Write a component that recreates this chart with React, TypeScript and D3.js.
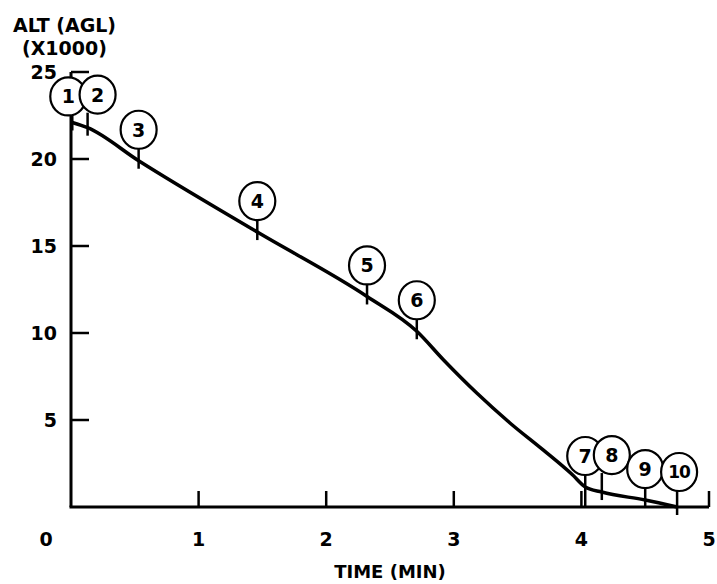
import React from 'react';
import * as d3 from 'd3';

// flight profile (time in min, altitude in thousands of ft AGL)
const curveTime = [0.01, 0.13, 0.53, 1.46, 2.32, 2.71, 2.92, 3.18, 3.44, 3.7, 3.93, 4.03, 4.16, 4.5, 4.75];
const curveAlt = [22.1, 21.8, 19.9, 15.8, 12.1, 10.1, 8.45, 6.55, 4.83, 3.28, 1.85, 1.15, 0.86, 0.4, 0.0];

// numbered events along the path
const markerIds = ['1', '2', '3', '4', '5', '6', '7', '8', '9', '10'];
const markerTime = [0.01, 0.13, 0.53, 1.46, 2.32, 2.71, 4.03, 4.16, 4.5, 4.75];
const markerAlt = [22.1, 21.8, 19.9, 15.8, 12.1, 10.1, 1.15, 0.86, 0.4, 0.0];

const yTicks = [5, 10, 15, 20, 25];
const xTicks = [0, 1, 2, 3, 4, 5];

// small nudges so crowded labels sit like the original
const labelShift: Record<string, [number, number]> = {
  '1': [-4, 5],
  '2': [10, -2],
  '8': [10, -6],
  '10': [2, -4],
};

const W = 717;
const H = 584;
const font = '"DejaVu Sans", sans-serif';

export default function App() {
  const x = d3.scaleLinear().domain([0, 5]).range([71, 709]);
  const y = d3.scaleLinear().domain([0, 25]).range([507, 72]);

  const line = d3
    .line<number>()
    .x((_, i) => x(curveTime[i]))
    .y((d) => y(d))
    .curve(d3.curveMonotoneX);

  const r = 19;

  return (
    <svg width={W} height={H} style={{ position: 'absolute', left: 0, top: 0, background: '#fff' }}>
      <g fontFamily={font} fontWeight="bold" fill="#000">
        <text x={13} y={32} fontSize={19}>ALT (AGL)</text>
        <text x={22} y={55} fontSize={19}>(X1000)</text>
      </g>

      {/* axes */}
      <line x1={x(0)} x2={x(0)} y1={y(0)} y2={y(25)} stroke="#000" strokeWidth={3} />
      <line x1={x(0) - 1.5} x2={x(5)} y1={y(0)} y2={y(0)} stroke="#000" strokeWidth={3} />
      {yTicks.map((v) => (
        <g key={'y' + v}>
          <line x1={x(0)} x2={x(0) + 18} y1={y(v)} y2={y(v)} stroke="#000" strokeWidth={2.5} />
          <text
            x={x(0) - 14}
            y={y(v)}
            dy="0.36em"
            textAnchor="end"
            fontFamily={font}
            fontWeight="bold"
            fontSize={19}
          >
            {v}
          </text>
        </g>
      ))}
      {xTicks.map((v) => (
        <g key={'x' + v}>
          {v > 0 && (
            <line x1={x(v)} x2={x(v)} y1={y(0)} y2={y(0) - 16} stroke="#000" strokeWidth={2.5} />
          )}
          <text
            x={v === 0 ? x(0) - 25 : x(v)}
            y={546}
            textAnchor="middle"
            fontFamily={font}
            fontWeight="bold"
            fontSize={19}
          >
            {v}
          </text>
        </g>
      ))}
      <text x={390} y={578} textAnchor="middle" fontFamily={font} fontWeight="bold" fontSize={18}>
        TIME (MIN)
      </text>

      {/* profile */}
      <path d={line(curveAlt) || ''} fill="none" stroke="#000" strokeWidth={3.5} strokeLinejoin="round" />

      {/* event markers */}
      {markerIds.map((id, i) => {
        const px = x(markerTime[i]);
        const py = y(markerAlt[i]);
        const [dx, dy] = labelShift[id] || [0, 0];
        const cx = px + dx;
        const cy = py - 31 + dy;
        const bottom = id === '7' ? y(0) : py + 8;
        return (
          <g key={id}>
            <line x1={px} x2={px} y1={cy + r - 1} y2={bottom} stroke="#000" strokeWidth={2.5} />
            <ellipse cx={cx} cy={cy} rx={r - 1} ry={r} fill="#fff" stroke="#000" strokeWidth={2.2} />
            <text
              x={cx}
              y={cy}
              dy="0.36em"
              textAnchor="middle"
              fontFamily={font}
              fontWeight="bold"
              fontSize={id === '10' ? 17 : 19}
              letterSpacing={id === '10' ? -1 : 0}
            >
              {id}
            </text>
          </g>
        );
      })}
    </svg>
  );
}
